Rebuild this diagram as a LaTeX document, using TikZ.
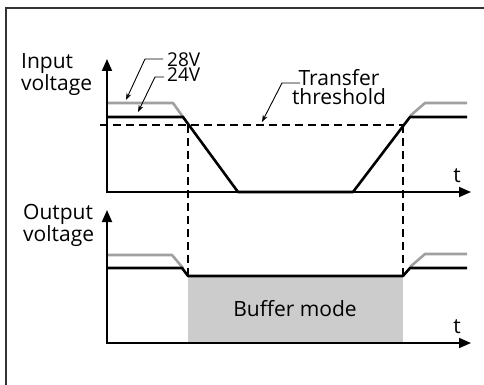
\documentclass[tikz,border=0pt]{standalone}
\usepackage{fontspec}
\setmainfont{Open Sans}
\usetikzlibrary{arrows.meta}
\definecolor{highlevel}{HTML}{A0A0A0}
\definecolor{bufferfill}{HTML}{CCCCCC}
\definecolor{framegray}{HTML}{333333}

\begin{document}
\begin{tikzpicture}[x=1pt,y=-1pt,
    every node/.style={font=\fontsize{21}{19}\selectfont,inner sep=0pt},
    voltlabel/.style={font=\fontsize{19}{15.5}\selectfont,align=left,anchor=north west},
    axis/.style={line width=1.8pt,{Triangle[length=12pt,width=10pt]}-{Triangle[length=12pt,width=10pt]}},
    level/.style={line width=2.6pt,line join=round},
    threshold/.style={line width=1.6pt,dash pattern=on 8pt off 5pt},
    leader/.style={line width=0.9pt,-{Stealth[length=7pt,width=5pt]}}]

    \useasboundingbox (0,0) rectangle (484,385);
    \draw[framegray,line width=2.5pt] (6,400) -- (6,8) -- (500,8);

    \node[align=left,anchor=north west] (InLabel) at (21,53) {Input\\voltage};
    \node[align=left,anchor=north west] (OutLabel) at (23,204) {Output\\voltage};

    \coordinate (In_O) at (107,192);
    \coordinate (In_Y) at (107,59);
    \coordinate (In_X) at (471,192);
    \coordinate (Out_O) at (107,343);
    \coordinate (Out_Y) at (107,210);
    \coordinate (Out_X) at (471,343);

    \fill[bufferfill] (188,276) rectangle (403,343);
    \node (Buffer) at (295,309) {Buffer mode};

    \draw[level,highlevel] (107,103) -- (173,103) -- (183,117);
    \draw[level,highlevel] (410,116) -- (425,103) -- (467,103);
    \draw[level] (107,117) -- (183,117) -- (238,192) -- (353,192) -- (410,117) -- (467,117);

    \draw[level,highlevel] (107,255) -- (172,255) -- (183,268);
    \draw[level,highlevel] (410,267) -- (425,254) -- (467,254);
    \draw[level] (107,268) -- (182,268) -- (188,276) -- (403,276) -- (410,268) -- (467,268);

    \coordinate (Thr_L) at (100,125);
    \coordinate (Thr_A) at (188,125);
    \coordinate (Thr_B) at (403,125);
    \coordinate (Buf_A) at (188,276);
    \coordinate (Buf_B) at (403,276);
    \draw[threshold] (Thr_L) -- (Thr_B);
    \draw[threshold] (Thr_A) -- (Buf_A);
    \draw[threshold] (Thr_B) -- (Buf_B);

    \draw[axis] (In_Y) -- (In_O) -- (In_X);
    \draw[axis] (Out_Y) -- (Out_O) -- (Out_X);
    \node (T_in) at (457,176) {t};
    \node (T_out) at (457,327) {t};

    \node[voltlabel] (Volts) at (167,52.5) {28V\\24V};
    \node[align=center,anchor=north] (Transfer) at (339,69) {Transfer\\threshold};

    \coordinate (V28_tip) at (126,100);
    \coordinate (V24_tip) at (138,112);
    \coordinate (Thr_tip) at (262,122);
    \draw[leader] ([xshift=-4pt,yshift=-6.5pt]Volts.north west) -- ++(-18,0) -- (V28_tip);
    \draw[leader] ([xshift=-3pt,yshift=-24.5pt]Volts.north west) -- ++(-9,0) -- (V24_tip);
    \draw[leader] (300,83) -- (282,83) -- (Thr_tip);

\end{tikzpicture}
\end{document}
